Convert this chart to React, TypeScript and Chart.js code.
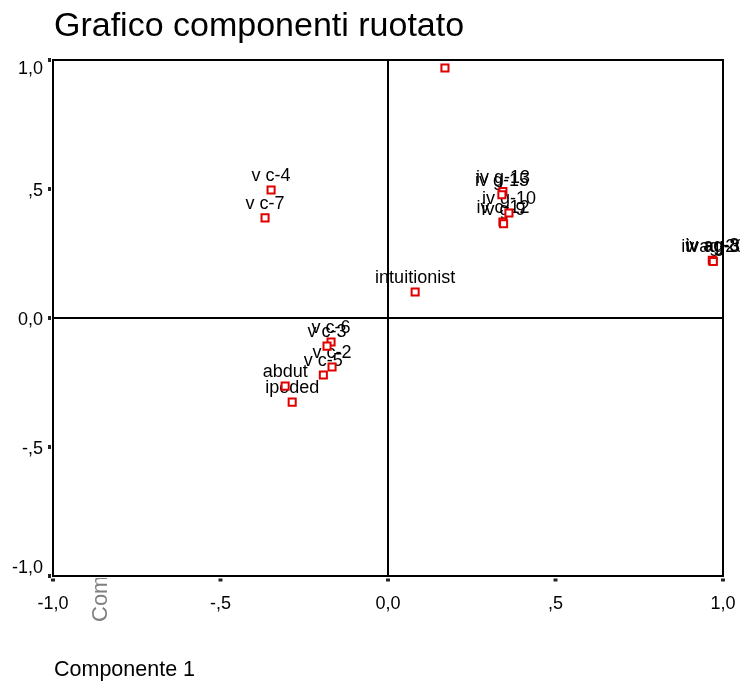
import React, { useEffect, useRef } from "react";
import { Chart, registerables } from "chart.js";

Chart.register(...registerables);

const FONT = '"Liberation Sans", Arial, Helvetica, sans-serif';

// Loadings on the two rotated components
const pointLabels = [
  "",
  "v c-4",
  "v c-7",
  "intuitionist",
  "iv g-13",
  "iv g-15",
  "iv g-10",
  "iv c-12",
  "iv g-9",
  "iv ag-3",
  "iv ag-8",
  "iv ag-20",
  "v c-6",
  "v c-3",
  "v c-2",
  "v c-5",
  "abdut",
  "ipoded",
];
const comp1Values = [
  0.170, -0.349, -0.367, 0.081, 0.343, 0.340, 0.361, 0.343, 0.345, 0.970, 0.968,
  0.971, -0.170, -0.182, -0.167, -0.193, -0.307, -0.286,
];
const comp2Values = [
  0.969, 0.496, 0.388, 0.101, 0.490, 0.478, 0.407, 0.372, 0.365, 0.221, 0.224,
  0.219, -0.093, -0.109, -0.190, -0.221, -0.264, -0.326,
];

const tickValues = [-1, -0.5, 0, 0.5, 1];
const xTickLabels = ["-1,0", "-,5", "0,0", ",5", "1,0"];
const yTickLabels = ["-1,0", "-,5", "0,0", ",5", "1,0"];

const chartTitle = "Grafico componenti ruotato";
const xTitle = "Componente 1";
const yTitle = "Componente 2";

const decor = {
  id: "decor",
  beforeDatasetsDraw(chart: any) {
    const { ctx, chartArea: a, scales } = chart;
    const x = scales.x;
    const y = scales.y;
    ctx.save();
    ctx.strokeStyle = "#000";
    ctx.lineWidth = 2;
    const x0 = x.getPixelForValue(0);
    const y0 = y.getPixelForValue(0);
    ctx.beginPath();
    ctx.moveTo(x0, a.top);
    ctx.lineTo(x0, a.bottom);
    ctx.moveTo(a.left, y0);
    ctx.lineTo(a.right, y0);
    ctx.stroke();

    ctx.font = `18px ${FONT}`;
    ctx.fillStyle = "#000";
    ctx.textAlign = "center";
    ctx.textBaseline = "alphabetic";
    const meta = chart.getDatasetMeta(0);
    meta.data.forEach((el: any, i: number) => {
      if (pointLabels[i]) ctx.fillText(pointLabels[i], el.x, el.y - 9);
    });
    ctx.restore();
  },
  afterDraw(chart: any) {
    const { ctx, chartArea: a, scales } = chart;
    const x = scales.x;
    const y = scales.y;
    ctx.save();
    // frame
    ctx.strokeStyle = "#000";
    ctx.lineWidth = 2;
    ctx.strokeRect(a.left, a.top, a.right - a.left, a.bottom - a.top);

    // tick marks
    ctx.fillStyle = "#222";
    tickValues.forEach((v) => {
      const px = x.getPixelForValue(v);
      ctx.fillRect(px - 2, a.bottom + 2.5, 4, 3);
      const py = y.getPixelForValue(v);
      ctx.fillRect(a.left - 5, py - 2, 3, 4);
    });

    // tick labels
    ctx.fillStyle = "#000";
    ctx.font = `18px ${FONT}`;
    ctx.textBaseline = "alphabetic";
    ctx.textAlign = "center";
    tickValues.forEach((v, i) => {
      const px = x.getPixelForValue(v);
      ctx.fillText(xTickLabels[i], px, a.bottom + 32.5);
    });
    ctx.textAlign = "right";
    tickValues.forEach((v, i) => {
      let py = y.getPixelForValue(v);
      py = Math.max(a.top + 7, Math.min(a.bottom - 9.5, py));
      ctx.fillText(yTickLabels[i], 43, py + 6.5);
    });

    // title
    ctx.textAlign = "left";
    ctx.font = `34px ${FONT}`;
    ctx.fillStyle = "#000";
    ctx.fillText(chartTitle, 54, 36);

    // x axis title
    ctx.font = `21.5px ${FONT}`;
    ctx.fillText(xTitle, 54, 676);

    // y axis title (clipped, as in the reference)
    ctx.save();
    ctx.beginPath();
    ctx.rect(80, a.bottom + 2, 40, 60);
    ctx.clip();
    ctx.translate(107, 622);
    ctx.rotate(-Math.PI / 2);
    ctx.fillStyle = "#808080";
    ctx.font = `22px ${FONT}`;
    ctx.textAlign = "left";
    ctx.fillText(yTitle, 0, 0);
    ctx.restore();

    ctx.restore();
  },
};

export default function App() {
  const ref = useRef<HTMLCanvasElement | null>(null);
  useEffect(() => {
    if (!ref.current) return;
    const points = comp1Values.map((v, i) => ({ x: v, y: comp2Values[i] }));
    const chart = new Chart(ref.current, {
      type: "scatter",
      data: {
        datasets: [
          {
            data: points,
            pointStyle: "rect",
            pointRadius: 5,
            pointBorderWidth: 2,
            pointBorderColor: "#e00000",
            pointBackgroundColor: "#ffffff",
          } as any,
        ],
      },
      options: {
        responsive: false,
        animation: false,
        devicePixelRatio: 1,
        layout: { padding: { left: 0, right: 17, top: 60, bottom: 0 } },
        plugins: {
          legend: { display: false },
          tooltip: { enabled: false },
          title: { display: false },
        },
        scales: {
          x: {
            type: "linear",
            min: -1,
            max: 1,
            ticks: { display: false, stepSize: 0.5 },
            grid: { display: false },
            border: { display: false },
            afterFit: (s: any) => {
              s.height = 107;
            },
          },
          y: {
            type: "linear",
            min: -1,
            max: 1,
            ticks: { display: false, stepSize: 0.5 },
            grid: { display: false },
            border: { display: false },
            afterFit: (s: any) => {
              s.width = 53;
            },
          },
        },
      } as any,
      plugins: [decor],
    });
    return () => chart.destroy();
  }, []);
  return (
    <canvas
      ref={ref}
      width={740}
      height={683}
      style={{ position: "absolute", left: 0, top: 0, width: 740, height: 683, display: "block" }}
    />
  );
}
